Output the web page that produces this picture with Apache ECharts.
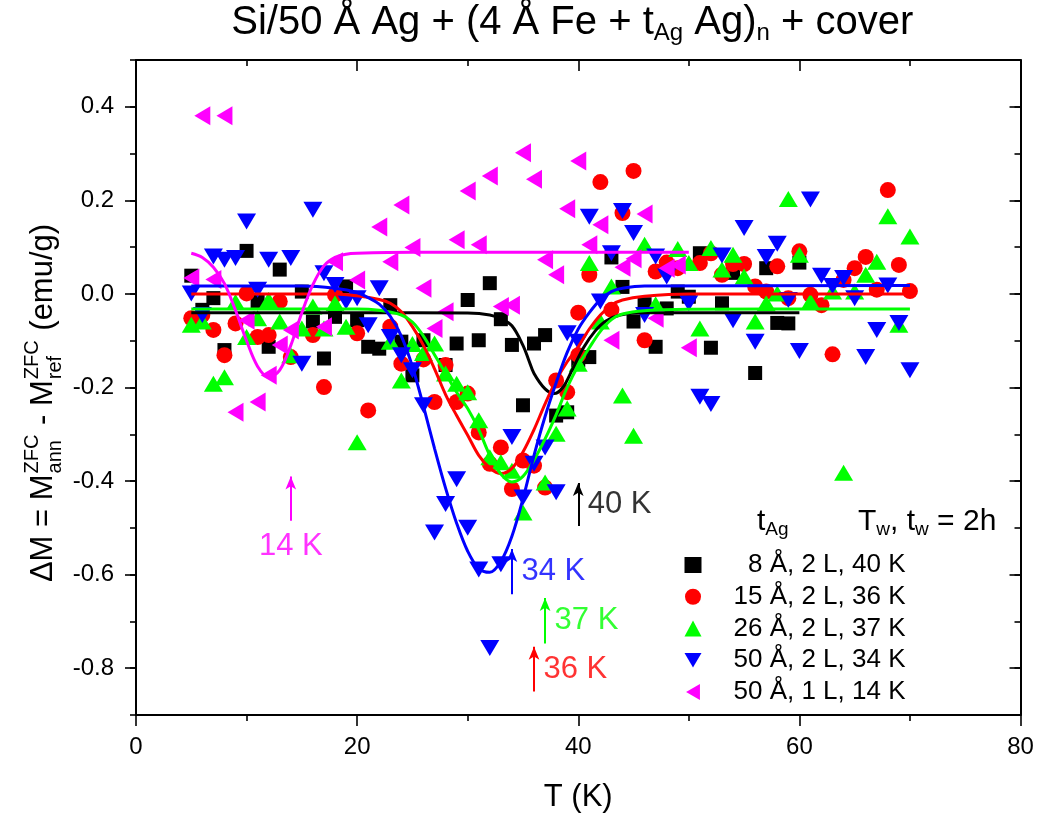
<!DOCTYPE html>
<html><head><meta charset="utf-8">
<script src="https://cdn.jsdelivr.net/npm/echarts@6.0.0/dist/echarts.min.js"></script>
<style>html,body{margin:0;padding:0;background:#fff}#c{width:1038px;height:823px}</style>
</head><body><div id="c"></div>
<script>
const FONT = '"Liberation Sans", Arial, sans-serif';

// ---------- data ----------
const seriesNames = ['  8 Å, 2 L, 40 K', '15 Å, 2 L, 36 K', '26 Å, 2 L, 37 K', '50 Å, 2 L, 34 K', '50 Å, 1 L, 14 K'];
const xTickValues = [0, 20, 40, 60, 80];
const yTickLabels = [-0.8, -0.6, -0.4, -0.2, 0.0, 0.2, 0.4];

const blackPts = [[5,0.039],[6,-0.034],[7,-0.009],[8,-0.12],[10,0.092],[11,-0.016],[12,-0.113],[13,0.052],[15,0.005],[16,-0.059],[17,-0.138],[18,-0.049],[19,0.016],[20,-0.056],[21,-0.113],[22,-0.117],[23,-0.024],[24,-0.102],[25,-0.174],[26,-0.099],[28,-0.152],[29,-0.106],[30,-0.013],[31,-0.099],[32,0.023],[33,-0.054],[34,-0.109],[35,-0.238],[36,-0.106],[37,-0.088],[38,-0.26],[39,-0.253],[40,-0.142],[41,-0.135],[43,0.078],[44,0.015],[45,-0.059],[46,-0.022],[47,-0.113],[48,-0.031],[49,0.005],[50,-0.006],[51,0.087],[52,-0.115],[53,-0.02],[54,0.045],[56,-0.169],[57,0.055],[58,-0.062],[59,-0.063],[60,0.067]];
const redPts = [[5,-0.052],[6,-0.045],[7,-0.077],[8,-0.131],[9,-0.063],[10,0.001],[11,-0.092],[12,-0.088],[13,-0.016],[14,-0.135],[16,-0.088],[17,-0.199],[18,-0.002],[20,-0.084],[21,-0.249],[23,-0.07],[24,-0.149],[26,-0.14],[27,-0.231],[28,-0.152],[29,-0.231],[30,-0.213],[31,-0.296],[32,-0.363],[33,-0.328],[34,-0.417],[35,-0.356],[36,-0.367],[37,-0.414],[38,-0.185],[39,-0.21],[40,-0.131],[40,-0.04],[41,0.041],[42,0.239],[43,-0.034],[44,0.173],[45,0.263],[46,-0.099],[47,0.048],[48,0.067],[49,0.055],[51,0.066],[52,0.087],[53,0.041],[54,0.064],[55,0.064],[56,0.016],[57,0.005],[58,0.059],[59,-0.009],[60,0.091],[61,-0.002],[62,-0.024],[63,-0.129],[64,0.03],[65,0.055],[66,0.079],[67,0.009],[68,0.222],[69,0.062],[70,0.006]];
const greenPts = [[5,-0.066],[6,-0.059],[7,-0.192],[8,-0.178],[9,-0.017],[10,-0.092],[11,-0.052],[12,-0.013],[13,-0.059],[14,-0.131],[15,-0.074],[16,-0.027],[17,-0.074],[18,-0.02],[19,-0.07],[20,-0.317],[23,-0.102],[24,-0.185],[25,-0.107],[26,-0.126],[27,-0.106],[28,-0.17],[29,-0.192],[30,-0.21],[31,-0.27],[32,-0.349],[33,-0.36],[34,-0.378],[35,-0.467],[37,-0.403],[38,-0.299],[39,-0.245],[40,-0.149],[41,0.066],[42,-0.059],[43,0.016],[44,-0.217],[45,-0.303],[46,0.105],[47,-0.022],[49,0.096],[50,0.066],[51,-0.074],[52,0.098],[53,0.052],[54,0.084],[55,0.037],[56,-0.059],[57,-0.02],[58,0.001],[59,0.203],[60,0.084],[61,-0.016],[63,0.005],[64,-0.382],[65,0.005],[66,0.041],[67,0.069],[68,0.166],[69,-0.066],[70,0.123]];
const bluePts = [[5,0.001],[6,-0.045],[7,0.08],[8,0.073],[9,0.077],[10,0.155],[11,0.009],[12,0.073],[14,0.077],[15,-0.149],[16,0.18],[17,0.044],[18,0.019],[19,-0.016],[20,-0.009],[21,-0.067],[22,0.012],[23,-0.092],[24,-0.131],[25,-0.163],[26,-0.238],[27,-0.51],[28,-0.449],[29,-0.396],[30,-0.5],[31,-0.589],[32,-0.757],[33,-0.578],[34,-0.306],[35,-0.435],[36,-0.363],[37,-0.328],[38,-0.424],[39,-0.084],[40,-0.102],[41,0.165],[42,-0.016],[43,0.087],[44,0.177],[45,0.13],[46,-0.045],[47,0.08],[48,0.037],[50,-0.02],[51,-0.22],[52,-0.235],[53,0.082],[54,-0.056],[55,0.141],[56,-0.102],[57,0.079],[58,0.107],[59,-0.013],[60,-0.122],[61,0.202],[62,0.039],[63,0.017],[64,0.034],[65,-0.009],[66,-0.135],[67,-0.077],[68,0.018],[69,-0.062],[70,-0.163]];
const magentaPts = [[5,0.034],[6,0.381],[7,0.031],[8,0.381],[9,-0.253],[10,-0.056],[11,-0.231],[12,-0.174],[13,-0.109],[14,-0.077],[17,-0.07],[18,0.069],[20,0.03],[22,0.143],[23,0.069],[24,0.19],[25,0.099],[26,0.012],[27,-0.074],[28,-0.038],[29,0.116],[30,0.22],[31,0.105],[32,0.252],[33,-0.027],[34,-0.024],[35,0.302],[36,0.245],[37,0.073],[38,0.041],[39,0.182],[40,0.284],[41,0.105],[42,0.148],[43,-0.099],[44,0.057],[45,0.075],[46,0.171],[47,-0.052],[48,0.055],[49,0.062],[50,-0.115]];

// fitted curves
const blackFit = [[5,-0.040],[20,-0.040],[30,-0.041],[32,-0.045],[33,-0.053],[34,-0.068],[35,-0.11],[35.5,-0.14],[36,-0.17],[37,-0.203],[37.8,-0.213],[38.6,-0.2],[39.5,-0.16],[40.5,-0.114],[41.5,-0.08],[42.5,-0.058],[43.8,-0.045],[46,-0.04],[60,-0.04]];
const redFit = [[5,0],[18,0],[20,-0.004],[22,-0.012],[23,-0.02],[24,-0.038],[25,-0.07],[26,-0.11],[27,-0.16],[28,-0.215],[29,-0.26],[30,-0.302],[31,-0.345],[32,-0.372],[33,-0.384],[34,-0.373],[35,-0.338],[36,-0.29],[37,-0.235],[38,-0.185],[39,-0.145],[40,-0.113],[41,-0.075],[42,-0.045],[43,-0.024],[44,-0.013],[46,-0.005],[50,0],[70,0]];
const greenFit = [[5,-0.032],[20,-0.032],[22,-0.035],[24,-0.045],[25,-0.06],[26,-0.09],[27,-0.13],[28,-0.17],[29,-0.21],[30,-0.245],[31,-0.29],[32,-0.345],[33,-0.385],[34,-0.402],[35,-0.39],[36,-0.355],[37,-0.31],[38,-0.258],[39,-0.2],[40,-0.153],[41,-0.115],[42,-0.08],[43,-0.055],[44,-0.043],[46,-0.036],[50,-0.033],[70,-0.032]];
const blueFit = [[5,0.017],[15,0.017],[18,0.012],[20,0.003],[21,-0.008],[22,-0.022],[23,-0.048],[24,-0.09],[25,-0.155],[26,-0.24],[27,-0.33],[28,-0.415],[29,-0.49],[30,-0.55],[31,-0.587],[32,-0.595],[33,-0.572],[34,-0.518],[35,-0.438],[36,-0.345],[37,-0.262],[38,-0.19],[39,-0.125],[40,-0.075],[41,-0.04],[42,-0.012],[43,0.005],[44,0.012],[46,0.017],[70,0.018]];
const magentaFit = [[5,0.087],[6,0.078],[7,0.057],[8,0.022],[9,-0.035],[10,-0.1],[11,-0.155],[12,-0.178],[13,-0.163],[14,-0.11],[15,-0.04],[16,0.02],[17,0.06],[18,0.078],[19,0.085],[20,0.087],[25,0.089],[50,0.089]];

// arrows (T, y from, y to) and their labels
const arrowT = [14, 40, 34, 37, 36];
const arrowFrom = [-0.485, -0.496, -0.642, -0.747, -0.85];
const arrowTo = [-0.39, -0.404, -0.545, -0.65, -0.754];
const arrowLabels = ['14 K', '40 K', '34 K', '37 K', '36 K'];
const colors = ['#000000', '#ff0000', '#00ff00', '#0000ff', '#ff00ff'];
const arrowColors = ['#ff00ff', '#000000', '#0000ff', '#00ff00', '#ff0000'];

// ---------- build ----------
const chart = echarts.init(document.getElementById('c'));
const GRID = {left: 136, right: 17.5, top: 60, bottom: 108};
const PLOT_CX = 136 + (1038 - 136 - 17.5) / 2;
const MAJ = 11, MIN = 6;
const lineBlack = {color: '#000', width: 2};
const tickBlack = {color: '#000', width: 1.6};

const DOWN_TRI = 'path://M0,0 L20,0 L10,17.3 Z';
const LEFT_TRI = 'path://M17.3,0 L17.3,20 L0,10 Z';
const scatterDefs = [
  {pts: blackPts, symbol: 'rect', size: 14},
  {pts: redPts, symbol: 'circle', size: 16},
  {pts: greenPts, symbol: 'triangle', size: [19, 16]},
  {pts: bluePts, symbol: DOWN_TRI, size: [19, 16]},
  {pts: magentaPts, symbol: LEFT_TRI, size: [16, 19]}
];
const fits = [blackFit, redFit, greenFit, blueFit, magentaFit];

const series = [];
scatterDefs.forEach((d, i) => {
  series.push({
    name: seriesNames[i], type: 'scatter', data: d.pts, symbol: d.symbol, symbolSize: d.size,
    itemStyle: {color: colors[i], opacity: 1}, z: 2, silent: true, animation: false
  });
});
fits.forEach((f, i) => {
  series.push({
    type: 'line', data: f, smooth: 0.35, showSymbol: false, symbol: 'none',
    lineStyle: {color: colors[i], width: 3}, z: 3, silent: true, animation: false
  });
});
// arrows
series.push({
  type: 'line', data: [], z: 4, silent: true, animation: false,
  markLine: {
    silent: true, animation: false, symbol: ['none', 'arrow'], symbolSize: [8, 13], precision: 3,
    label: {show: false},
    data: arrowT.map((t, i) => [
      {coord: [t, arrowFrom[i]], lineStyle: {color: arrowColors[i], width: 2, type: 'solid'}, itemStyle: {color: arrowColors[i]}},
      {coord: [t, arrowTo[i]]}
    ])
  }
});
// arrow labels
series.push({
  type: 'scatter', z: 4, silent: true, animation: false, symbolSize: 1,
  itemStyle: {color: 'rgba(0,0,0,0)'},
  data: arrowT.map((t, i) => ({
    value: [t, i === 0 ? arrowFrom[i] : (arrowFrom[i] + arrowTo[i]) / 2],
    label: {
      show: true, formatter: arrowLabels[i], color: arrowColors[i], fontSize: 31, fontFamily: FONT,
      position: i === 0 ? 'bottom' : 'right', distance: i === 0 ? 10 : 9
    }
  }))
});

// text measuring for layout
const cv = document.createElement('canvas').getContext('2d');
function tw(t, s) { cv.font = s + 'px "Liberation Sans"'; return cv.measureText(t).width; }

// y-axis title built from pieces (super/subscripts stacked)
const MAINF = 31, SMALLF = 20;
const yParts = [['ΔM = M'], ['ZFC', 'ann'], [' - M'], ['ZFC', 'ref'], [' (emu/g)']];
const yChildren = [];
let cur = 0;
yParts.forEach(p => {
  if (p.length === 1) {
    yChildren.push({type: 'text', x: cur, y: 0, style: {text: p[0], fontSize: MAINF, fontFamily: FONT, fill: '#000', align: 'left', verticalAlign: 'middle'}});
    cur += tw(p[0], MAINF);
  } else {
    yChildren.push({type: 'text', x: cur + 1, y: -11, style: {text: p[0], fontSize: SMALLF, fontFamily: FONT, fill: '#000', align: 'left', verticalAlign: 'middle'}});
    yChildren.push({type: 'text', x: cur + 1, y: 12, style: {text: p[1], fontSize: SMALLF, fontFamily: FONT, fill: '#000', align: 'left', verticalAlign: 'middle'}});
    cur += Math.max(tw(p[0], SMALLF), tw(p[1], SMALLF)) + 2;
  }
});
const yNameCenter = 403;

// title width for centring over the plot
const TF = 40, TSF = 24;
const titleW = tw('Si/50 Å Ag + (4 Å Fe + t', TF) + tw('Ag', TSF) + tw(' Ag)', TF) + tw('n', TSF) + tw(' + cover', TF);

const option = {
  backgroundColor: '#fff',
  animation: false,
  title: [
    {text: 'Si/50 Å Ag + (4 Å Fe + t{s|Ag} Ag){s|n} + cover', left: PLOT_CX - titleW / 2 - 6, top: 1, padding: 0,
     textStyle: {fontSize: TF, fontWeight: 'normal', color: '#000', fontFamily: FONT, lineHeight: 44,
       rich: {s: {fontSize: TSF, lineHeight: 24, verticalAlign: 'bottom', fontFamily: FONT, color: '#000'}}}},
    {text: 't{s|Ag}', left: 752, top: 500,
     textStyle: {fontSize: 30, fontWeight: 'normal', color: '#000', fontFamily: FONT, lineHeight: 34,
       rich: {s: {fontSize: 19, lineHeight: 18, verticalAlign: 'bottom', fontFamily: FONT, color: '#000'}}}},
    {text: 'T{s|w}, t{s|w} = 2h', left: 853, top: 500,
     textStyle: {fontSize: 30, fontWeight: 'normal', color: '#000', fontFamily: FONT, lineHeight: 34,
       rich: {s: {fontSize: 19, lineHeight: 18, verticalAlign: 'bottom', fontFamily: FONT, color: '#000'}}}}
  ],
  legend: {
    data: seriesNames, orient: 'vertical', left: 684.5, top: 551.5, padding: 0,
    itemWidth: 17, itemHeight: 16, itemGap: 4.75,
    textStyle: {fontSize: 26, color: '#000', fontFamily: FONT, lineHeight: 27, padding: [0, 0, 0, 27]},
    selectedMode: false
  },
  grid: [Object.assign({}, GRID), Object.assign({}, GRID)],
  xAxis: [
    {type: 'value', gridIndex: 0, position: 'bottom', min: 0, max: 80, interval: 20,
     axisLine: {show: true, onZero: false, lineStyle: lineBlack},
     axisTick: {show: true, length: MAJ, lineStyle: tickBlack},
     minorTick: {show: true, splitNumber: 2, length: MIN, lineStyle: tickBlack},
     axisLabel: {show: true, fontSize: 24, color: '#000', fontFamily: FONT, margin: 20, customValues: xTickValues},
     splitLine: {show: false},
     name: 'T (K)', nameLocation: 'middle', nameGap: 67,
     nameTextStyle: {fontSize: 31, color: '#000', fontFamily: FONT}},
    {type: 'value', gridIndex: 0, position: 'top', min: 0, max: 80, interval: 20,
     axisLine: {show: true, onZero: false, lineStyle: lineBlack},
     axisTick: {show: true, inside: true, length: MAJ, lineStyle: tickBlack},
     minorTick: {show: true, splitNumber: 2, length: MIN, lineStyle: tickBlack},
     axisLabel: {show: false}, splitLine: {show: false}},
    {type: 'value', gridIndex: 1, min: 0, max: 80, show: false}
  ],
  yAxis: [
    {type: 'value', gridIndex: 0, position: 'left', min: -0.9, max: 0.5, interval: 0.1,
     axisLine: {show: true, onZero: false, lineStyle: lineBlack},
     axisTick: {show: true, length: MAJ, lineStyle: tickBlack, customValues: yTickLabels},
     axisLabel: {show: true, fontSize: 24, color: '#000', fontFamily: FONT, margin: 22, customValues: yTickLabels,
       formatter: v => v.toFixed(1)},
     splitLine: {show: false}},
    {type: 'value', gridIndex: 0, position: 'right', min: -0.9, max: 0.5, interval: 0.1,
     axisLine: {show: true, onZero: false, lineStyle: lineBlack},
     axisTick: {show: true, inside: true, length: MAJ, lineStyle: tickBlack, customValues: yTickLabels},
     axisLabel: {show: false}, splitLine: {show: false}},
    {type: 'value', gridIndex: 1, position: 'left', min: -0.9, max: 0.5, interval: 0.1,
     axisLine: {show: false, onZero: false},
     axisTick: {show: true, length: MIN, lineStyle: tickBlack},
     axisLabel: {show: false}, splitLine: {show: false}},
    {type: 'value', gridIndex: 1, position: 'right', min: -0.9, max: 0.5, interval: 0.1,
     axisLine: {show: false, onZero: false},
     axisTick: {show: true, inside: true, length: MIN, lineStyle: tickBlack},
     axisLabel: {show: false}, splitLine: {show: false}}
  ],
  graphic: [
    {type: 'group', x: 43, y: yNameCenter + cur / 2, rotation: Math.PI / 2, children: yChildren, silent: true}
  ],
  series: series
};
chart.setOption(option);
</script>
</body></html>
